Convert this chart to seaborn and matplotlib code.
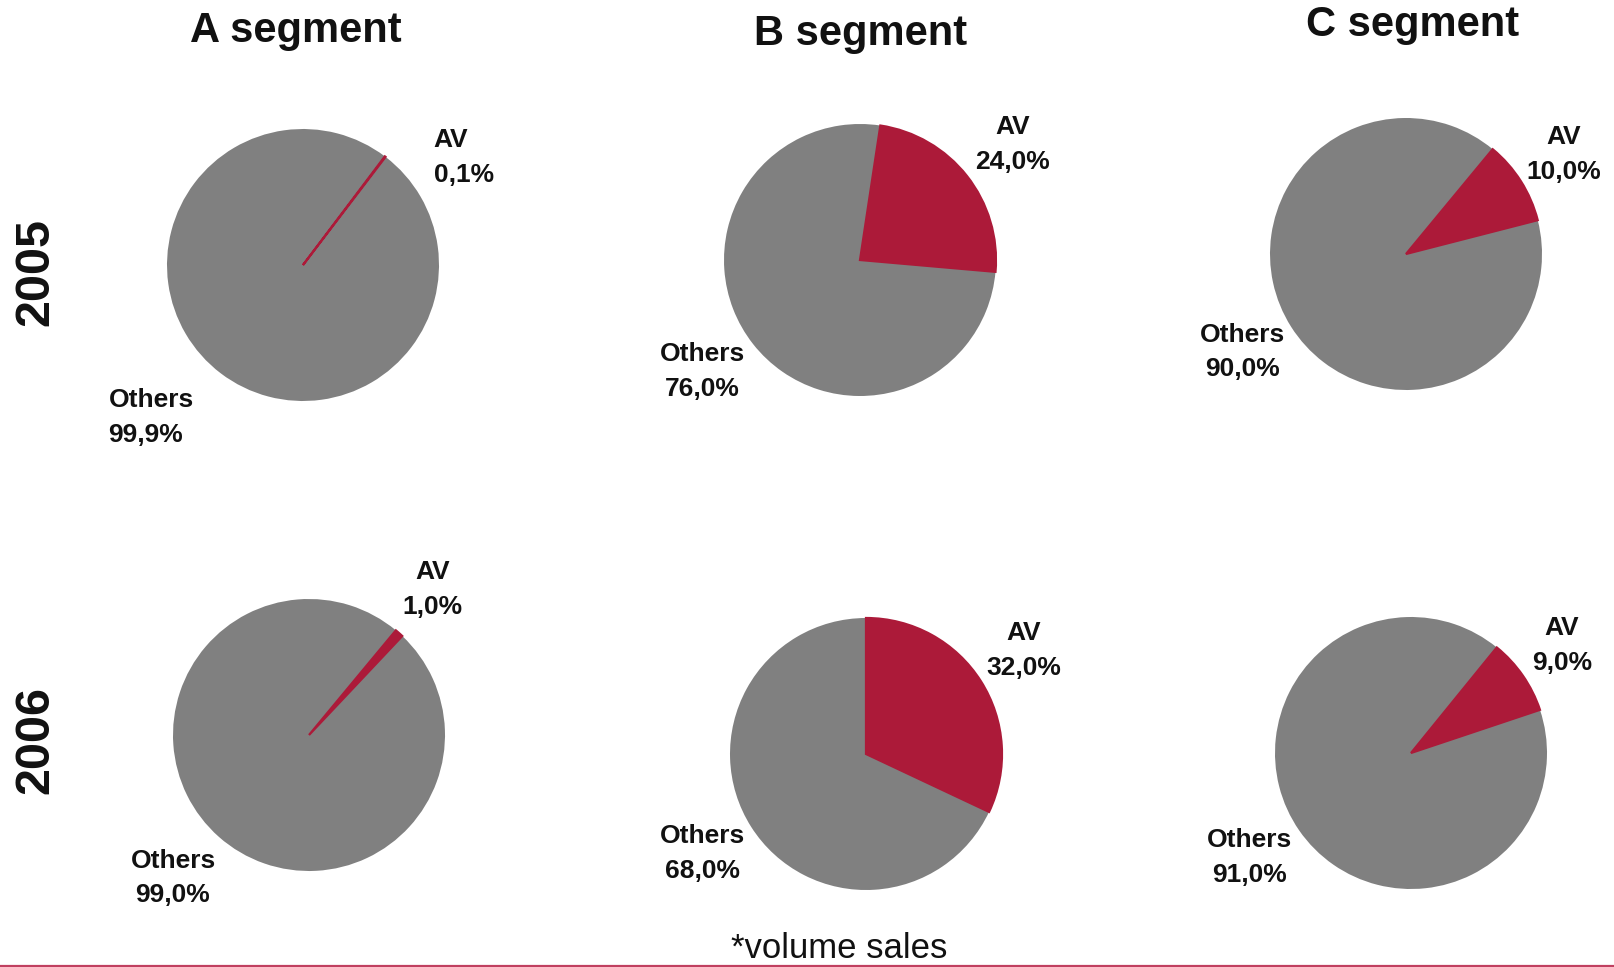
import matplotlib
matplotlib.use("Agg")
import matplotlib.pyplot as plt
from matplotlib.lines import Line2D
import seaborn as sns

sns.set_theme(style="white")
plt.rcParams["font.family"] = ["Liberation Sans", "DejaVu Sans"]

# Market share data (volume sales)
segments = ["A segment", "B segment", "C segment"]
years = ["2005", "2006"]
slice_names = ["AV", "Others"]
av_share = [[0.1, 24.0, 10.0],   # 2005
            [1.0, 32.0, 9.0]]    # 2006
others_share = [[99.9, 76.0, 90.0],
                [99.0, 68.0, 91.0]]
footnote = "*volume sales"

colors = ["#AC1A39", "#808080"]

W, H = 1615, 967
fig = plt.figure(figsize=(W / 100, H / 100), dpi=100)

# Layout: pie centres in pixels (from top-left), per row/column
centers = [[(303, 265), (860, 260), (1406, 254)],
           [(309, 735), (866, 754), (1411, 753)]]
radius_px = 136
start_angles = [[53, 81.4, 50.4],
                [50.3, 90, 50.9]]
# label block offsets in units of pie radius: (AV), (Others)
av_offsets = [[(0.96, 0.79), (1.12, 0.85), (1.16, 0.73)],
              [(0.91, 1.07), (1.16, 0.76), (1.11, 0.79)]]
oth_offsets = [[(-1.43, -1.12), (-1.16, -0.82), (-1.2, -0.72)],
               [(-1.0, -1.05), (-1.2, -0.73), (-1.19, -0.77)]]

lim = 1.6
for r in range(2):
    for c in range(3):
        cx, cy = centers[r][c]
        side = 2 * lim * radius_px
        ax = fig.add_axes([(cx - side / 2) / W, 1 - (cy + side / 2) / H,
                           side / W, side / H])
        vals = [av_share[r][c], others_share[r][c]]
        wedges, _ = ax.pie(vals, colors=colors, startangle=start_angles[r][c],
                           counterclock=False, radius=1.0,
                           wedgeprops=dict(linewidth=0))
        # outline the AV wedge in its own colour so thin slices stay visible
        wedges[0].set_edgecolor(colors[0])
        wedges[0].set_linewidth(1.6)
        wedges[0].set_zorder(3)
        ax.set_xlim(-lim, lim)
        ax.set_ylim(-lim, lim)
        ax.set_aspect("equal")
        ax.axis("off")
        ha = "left" if (r, c) == (0, 0) else "center"
        for name, v, off in ((slice_names[0], vals[0], av_offsets[r][c]),
                             (slice_names[1], vals[1], oth_offsets[r][c])):
            txt = f"{name}\n{v:.1f}%".replace(".", ",")
            x, y = off
            ax.text(x, y, txt, ha=ha, va="center", multialignment=ha,
                    fontsize=19, fontweight="bold", color="#111111",
                    linespacing=1.55, clip_on=False)

# Column titles
title_pos = [(296, 31), (861, 34), (1413, 25)]
for name, (x, y) in zip(segments, title_pos):
    fig.text(x / W, 1 - y / H, name, ha="center", va="center",
             fontsize=30, fontweight="bold", color="#111111")

# Row labels
row_pos = [(36, 272), (36, 740)]
for name, (x, y) in zip(years, row_pos):
    fig.text(x / W, 1 - y / H, name, ha="center", va="center", rotation=90,
             fontsize=35, fontweight="bold", color="#111111")

fig.text(839 / W, 1 - 948 / H, footnote, ha="center", va="center",
         fontsize=25, color="#111111")

fig.add_artist(Line2D([0, 1], [1 - 965.5 / H] * 2, color="#C04060",
                      linewidth=1.6, transform=fig.transFigure))

fig.savefig("out.png", dpi=100)
